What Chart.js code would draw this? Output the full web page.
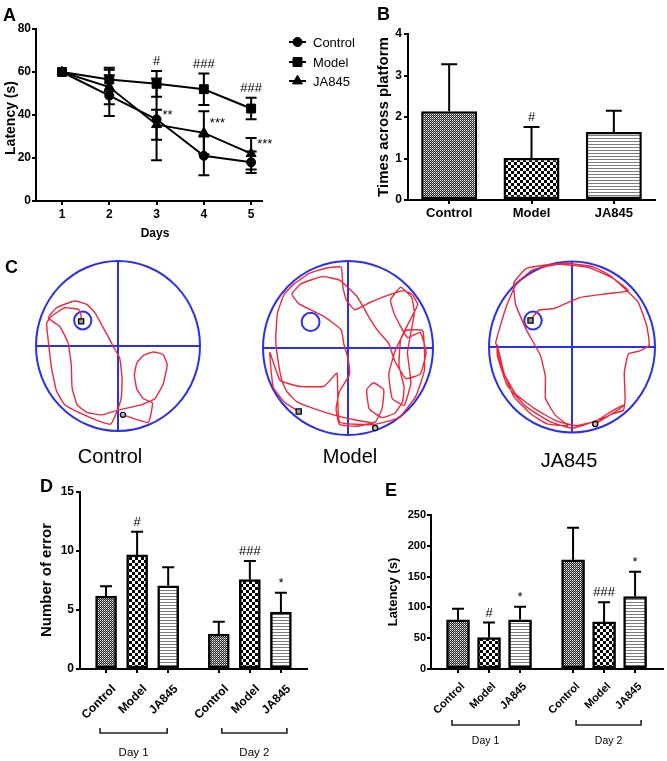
<!DOCTYPE html>
<html><head><meta charset="utf-8">
<script src="https://cdn.jsdelivr.net/npm/chart.js@4.4.1/dist/chart.umd.min.js"></script>
<style>html,body{margin:0;padding:0;background:#fff;}body{position:relative;width:667px;height:761px;overflow:hidden;}</style>
</head><body>
<script>
const FONT = "'Liberation Sans', Arial, Helvetica, sans-serif";

// ---------- DATA ----------
// Panel A: escape latency over training days
const days = [1, 2, 3, 4, 5];
const ctrlLatency = [60, 49, 38, 21, 18];
const ctrlLatencyErr = [0, 9.5, 19, 9, 5];
const modelLatency = [60, 56.5, 54.5, 52, 43];
const modelLatencyErr = [0, 5.5, 6, 7.3, 5];
const jaLatency = [60, 53, 35.5, 31.7, 22];
const jaLatencyErr = [0, 8, 7, 10, 7.3];
const modelSigA = ['', '', '#', '###', '###'];
const jaSigA = ['', '', '**', '***', '***'];

// Panel B: times across platform
const groups = ['Control', 'Model', 'JA845'];
const crossings = [2.14, 1.01, 1.64];
const crossingsErr = [1.13, 0.75, 0.51];
const crossingsSig = ['', '#', ''];

// Panel D: number of errors
const dayLabels = ['Day 1', 'Day 2'];
const errCountDay1 = [6.17, 9.67, 7.05];
const errCountDay1Sem = [0.85, 1.97, 1.58];
const errCountDay2 = [2.96, 7.58, 4.82];
const errCountDay2Sem = [1.04, 1.58, 1.64];
const errCountSig = ['', '#', '', '', '###', '*'];

// Panel E: step-down latency
const stepLatDay1 = [79.8, 51.0, 79.8];
const stepLatDay1Sem = [18, 24.4, 21.2];
const stepLatDay2 = [177.4, 76.5, 117.7];
const stepLatDay2Sem = [52, 32, 40.2];
const stepLatSig = ['', '#', '*', '', '###', '*'];

// Panel C: swim paths in pool coordinates (-1..1)
const controlPath = [[0.06,-0.81],[0.37,-0.90],[0.42,-0.67],[0.31,-0.62],[0.23,-0.51],[0.20,-0.34],[0.23,-0.20],[0.31,-0.11],[0.43,-0.07],[0.55,-0.10],[0.60,-0.22],[0.55,-0.45],[0.45,-0.62],[0.29,-0.69],[-0.02,-0.76],[-0.20,-0.81],[-0.38,-0.78],[-0.50,-0.69],[-0.56,-0.49],[-0.57,-0.22],[-0.61,0.04],[-0.71,0.23],[-0.85,0.33],[-0.75,0.45],[-0.53,0.53],[-0.38,0.49],[-0.28,0.39],[-0.20,0.25],[-0.12,0.11],[-0.05,-0.02],[0.02,-0.14],[0.05,-0.38],[0.04,-0.61],[-0.03,-0.81],[-0.09,-0.92],[-0.24,-0.88],[-0.46,-0.79],[-0.65,-0.69],[-0.75,-0.53],[-0.81,-0.26],[-0.85,0.06],[-0.87,0.27],[-0.81,0.35],[-0.65,0.45],[-0.48,0.43],[-0.45,0.36],[-0.45,0.29]];
const modelPath = [[0.32,-0.92],[0.28,-0.86],[0.10,-0.83],[-0.20,-0.76],[-0.45,-0.68],[-0.60,-0.62],[-0.72,-0.50],[-0.78,-0.37],[-0.83,-0.10],[-0.85,0.10],[-0.83,0.40],[-0.75,0.62],[-0.63,0.74],[-0.45,0.86],[-0.25,0.92],[-0.08,0.93],[-0.06,0.70],[-0.02,0.55],[0.08,0.44],[0.25,0.52],[0.45,0.60],[0.65,0.66],[0.75,0.62],[0.82,0.50],[0.72,0.30],[0.62,0.10],[0.60,-0.20],[0.66,-0.45],[0.64,-0.62],[0.55,-0.75],[0.40,-0.80],[0.25,-0.70],[0.22,-0.48],[0.30,-0.40],[0.42,-0.48],[0.40,-0.70],[0.32,-0.85],[0.10,-0.90],[-0.10,-0.88],[-0.14,-0.70],[-0.10,-0.50],[0.02,-0.30],[0.00,-0.12],[-0.05,0.05],[-0.08,0.21],[-0.28,0.36],[-0.58,0.51],[-0.66,0.62],[-0.55,0.74],[-0.30,0.82],[-0.10,0.78],[0.10,0.60],[0.25,0.35],[0.35,0.20],[0.48,0.05],[0.55,-0.15],[0.68,-0.35],[0.85,-0.30],[0.92,-0.05],[0.85,0.18],[0.70,0.12],[0.55,0.38],[0.50,0.55],[0.62,0.70],[0.75,0.58],[0.78,0.40],[0.70,-0.05],[0.74,-0.40],[0.66,-0.66],[0.52,-0.58],[0.48,-0.30],[0.56,-0.02],[0.68,0.20],[0.88,0.20],[0.90,-0.25],[0.80,-0.55],[0.60,-0.80],[0.30,-0.88],[-0.10,-0.85],[-0.13,-0.29],[-0.28,-0.44],[-0.58,-0.44],[-0.80,-0.37],[-0.92,-0.05],[-0.88,-0.45],[-0.75,-0.62],[-0.58,-0.73]];
const jaPath = [[0.28,-0.90],[0.45,-0.80],[0.58,-0.72],[0.62,-0.68],[0.48,-0.75],[0.30,-0.86],[0.05,-0.92],[-0.20,-0.86],[-0.45,-0.72],[-0.68,-0.55],[-0.85,-0.25],[-0.90,0.00],[-0.92,0.05],[-0.80,0.45],[-0.68,0.72],[-0.48,0.90],[-0.10,0.98],[0.25,0.94],[0.45,0.84],[0.65,0.67],[0.80,0.52],[0.90,0.25],[0.93,0.02],[0.80,-0.05],[0.68,-0.08],[0.63,-0.30],[0.64,-0.60],[0.62,-0.74],[0.50,-0.78],[0.30,-0.86],[0.00,-0.95],[-0.25,-0.88],[-0.55,-0.70],[-0.78,-0.45],[-0.90,-0.10],[-0.90,0.02],[-0.82,-0.30],[-0.70,-0.58],[-0.50,-0.78],[-0.30,-0.90],[-0.05,-0.92],[-0.20,-0.80],[-0.32,-0.60],[-0.32,-0.35],[-0.38,-0.10],[-0.55,0.20],[-0.68,0.50],[-0.70,0.75],[-0.55,0.92],[-0.20,0.97],[0.20,0.93],[0.50,0.80],[0.68,0.66],[0.40,0.62],[0.10,0.58],[-0.22,0.45],[-0.40,0.43],[-0.48,0.34],[-0.50,0.31]];
const controlPlatform = [-0.43, 0.30];
const modelPlatform = [-0.44, 0.30];
const jaPlatform = [-0.47, 0.31];
const platformRadius = 0.105;

// ---------- HELPERS ----------
Chart.defaults.font.family = FONT;
Chart.defaults.color = '#000';
const RED = '#f0263c', BLUE = '#2a2ef0';

function place(id, left, top, w, h) {
  const c = document.createElement('canvas');
  c.id = id; c.width = w; c.height = h;
  c.style.cssText = 'position:absolute;left:' + left + 'px;top:' + top + 'px;width:' + w + 'px;height:' + h + 'px';
  document.body.appendChild(c);
  return c;
}
function makePattern(kind) {
  const c = document.createElement('canvas');
  let g;
  if (kind === 'fine') {
    c.width = 2; c.height = 2; g = c.getContext('2d');
    g.fillStyle = '#262626'; g.fillRect(0, 0, 2, 2);
    g.fillStyle = '#ffffff'; g.fillRect(0, 0, 1, 1);
    g.fillStyle = '#9a9a9a'; g.fillRect(1, 1, 1, 1);
  } else if (kind === 'checker') {
    c.width = 6; c.height = 6; g = c.getContext('2d');
    g.fillStyle = '#fff'; g.fillRect(0, 0, 6, 6);
    g.fillStyle = '#000'; g.fillRect(0, 0, 3, 3); g.fillRect(3, 3, 3, 3);
  } else {
    c.width = 2; c.height = 3; g = c.getContext('2d');
    g.fillStyle = '#fff'; g.fillRect(0, 0, 2, 3);
    g.fillStyle = '#7a7a7a'; g.fillRect(0, 0, 2, 1);
  }
  return g.createPattern(c, 'repeat');
}
const patCtrl = makePattern('fine'), patModel = makePattern('checker'), patJA = makePattern('stripes');

function axis(size, ticksExtra, extra) {
  return Object.assign({
    border: { display: true, color: '#000', width: 2 },
    grid: { display: true, drawOnChartArea: false, drawTicks: true, tickLength: 4, tickWidth: 2, tickColor: '#000', color: '#000', lineWidth: 2, offset: false },
    ticks: Object.assign({ color: '#000', font: { family: FONT, size: size, weight: 'bold' }, padding: 2, autoSkip: false, maxRotation: 0, minRotation: 0 }, ticksExtra || {})
  }, extra || {});
}
const baseOpts = { responsive: false, maintainAspectRatio: false, animation: false, devicePixelRatio: 1, events: [],
  plugins: { legend: { display: false }, tooltip: { enabled: false } } };

const errorBars = {
  id: 'errorBars',
  afterDatasetsDraw(chart) {
    const ctx = chart.ctx;
    chart.data.datasets.forEach((ds, di) => {
      if (!ds.errors) return;
      const meta = chart.getDatasetMeta(di);
      const ys = chart.scales[meta.yAxisID];
      ctx.save(); ctx.strokeStyle = '#000'; ctx.lineWidth = 2;
      meta.data.forEach((el, i) => {
        const e = ds.errors[i]; if (!e) return;
        const raw = ds.data[i]; const v = (typeof raw === 'object') ? raw.y : raw;
        const x = el.x, hw = ds.capHalf || 6;
        const yU = ys.getPixelForValue(v + e);
        const yL = ds.errBoth ? ys.getPixelForValue(v - e) : ys.getPixelForValue(v);
        ctx.beginPath();
        ctx.moveTo(x, yL); ctx.lineTo(x, yU);
        ctx.moveTo(x - hw, yU); ctx.lineTo(x + hw, yU);
        if (ds.errBoth) { ctx.moveTo(x - hw, yL); ctx.lineTo(x + hw, yL); }
        ctx.stroke();
      });
      ctx.restore();
    });
  }
};
const sigMarks = {
  id: 'sigMarks',
  afterDatasetsDraw(chart) {
    const ctx = chart.ctx;
    chart.data.datasets.forEach((ds, di) => {
      if (!ds.sig) return;
      const meta = chart.getDatasetMeta(di);
      const ys = chart.scales[meta.yAxisID];
      meta.data.forEach((el, i) => {
        const s = ds.sig[i]; if (!s) return;
        const raw = ds.data[i]; const v = (typeof raw === 'object') ? raw.y : raw;
        ctx.save(); ctx.fillStyle = '#000'; ctx.font = '13px ' + FONT; ctx.textBaseline = 'alphabetic';
        if (ds.sigRight) {
          ctx.textAlign = 'left';
          ctx.fillText(s, el.x + 6, ys.getPixelForValue(v) - 6);
        } else {
          ctx.textAlign = 'center';
          const e = ds.errors ? ds.errors[i] : 0;
          ctx.fillText(s, el.x, ys.getPixelForValue(v + e) - 6);
        }
        ctx.restore();
      });
    });
  }
};
function textPlugin(left, top, items) {
  return { id: 'texts', afterDraw(chart) {
    const ctx = chart.ctx;
    items.forEach(t => {
      ctx.save(); ctx.font = t.font; ctx.fillStyle = t.color || '#000';
      ctx.textAlign = t.align || 'center'; ctx.textBaseline = t.base || 'alphabetic';
      ctx.translate(t.x - left, t.y - top); if (t.rot) ctx.rotate(t.rot);
      ctx.fillText(t.text, 0, 0); ctx.restore();
    });
  } };
}

// ---------- PANEL A ----------
function lineSet(label, vals, errs, style, r, sig, sigRight) {
  return { label: label, data: days.map((d, i) => ({ x: d, y: vals[i] })), errors: errs, errBoth: true, capHalf: 5.5,
    sig: sig, sigRight: sigRight, borderColor: '#000', borderWidth: 2, backgroundColor: '#000',
    pointStyle: style, pointRadius: r, pointBackgroundColor: '#000', pointBorderColor: '#000', pointBorderWidth: 1, tension: 0, clip: false };
}
const legendA = { id: 'legendA', afterDraw(chart) {
  const ctx = chart.ctx;
  const entries = [['Control', 'circle', 4.5], ['Model', 'rect', 6.3], ['JA845', 'triangle', 5.8]];
  const ys = [42, 62, 81];
  entries.forEach((en, i) => {
    ctx.save(); ctx.strokeStyle = '#000'; ctx.fillStyle = '#000'; ctx.lineWidth = 2;
    ctx.beginPath(); ctx.moveTo(289, ys[i]); ctx.lineTo(306, ys[i]); ctx.stroke();
    ctx.lineWidth = 1;
    Chart.helpers.drawPoint(ctx, { pointStyle: en[1], radius: en[2], rotation: 0, borderWidth: 1 }, 297.5, ys[i]);
    ctx.font = '13px ' + FONT; ctx.textAlign = 'left'; ctx.textBaseline = 'middle';
    ctx.fillText(en[0], 313, ys[i] + 1);
    ctx.restore();
  });
} };
new Chart(place('chartA', 0, 0, 370, 245), {
  type: 'line',
  data: { datasets: [
    lineSet('Control', ctrlLatency, ctrlLatencyErr, 'circle', 4.5),
    lineSet('Model', modelLatency, modelLatencyErr, 'rect', 6.3, modelSigA, false),
    lineSet('JA845', jaLatency, jaLatencyErr, 'triangle', 5.8, jaSigA, true)
  ] },
  options: Object.assign({}, baseOpts, {
    layout: { padding: { left: 0, top: 29, right: 108, bottom: 0 } },
    scales: {
      x: axis(12, {}, { type: 'linear', min: 0.45, max: 5.23,
        afterBuildTicks: s => { s.ticks = days.map(v => ({ value: v })); },
        afterFit: s => { s.height = 44; } }),
      y: axis(12, { stepSize: 20, padding: 1 }, { min: 0, max: 80, afterFit: s => { s.width = 36; } })
    }
  }),
  plugins: [errorBars, sigMarks, legendA, textPlugin(0, 0, [
    { text: 'A', x: 3, y: 20.5, font: 'bold 18px ' + FONT, align: 'left' },
    { text: 'Latency (s)', x: 11, y: 118, font: 'bold 14px ' + FONT, base: 'middle', rot: -Math.PI / 2 },
    { text: 'Days', x: 155, y: 237, font: 'bold 12px ' + FONT }
  ])]
});

// ---------- PANEL B ----------
new Chart(place('chartB', 340, 0, 327, 245), {
  type: 'bar',
  data: { labels: groups, datasets: [{ data: crossings, errors: crossingsErr, sig: crossingsSig, capHalf: 8,
    backgroundColor: [patCtrl, patModel, patJA], borderColor: '#000', borderWidth: 2.5, borderSkipped: false,
    barPercentage: 0.68, categoryPercentage: 1 }] },
  options: Object.assign({}, baseOpts, {
    layout: { padding: { left: 0, top: 34, right: 12, bottom: 0 } },
    scales: {
      x: axis(13, {}, { type: 'category', offset: true, afterFit: s => { s.height = 45; } }),
      y: axis(12, { stepSize: 1, padding: 2 }, { min: 0, max: 4, afterFit: s => { s.width = 68; } })
    }
  }),
  plugins: [errorBars, sigMarks, textPlugin(340, 0, [
    { text: 'B', x: 377, y: 20, font: 'bold 18px ' + FONT, align: 'left' },
    { text: 'Times across platform', x: 384, y: 117, font: 'bold 15px ' + FONT, base: 'middle', rot: -Math.PI / 2 }
  ])]
});

// ---------- PANEL C ----------
function poolPlugin(platform) {
  return { id: 'pool', beforeDatasetsDraw(chart) {
    const ctx = chart.ctx, x = chart.scales.x, y = chart.scales.y;
    const cx = x.getPixelForValue(0), cy = y.getPixelForValue(0);
    const rx = x.getPixelForValue(1) - cx, ry = cy - y.getPixelForValue(1);
    ctx.save(); ctx.strokeStyle = BLUE; ctx.lineWidth = 2;
    ctx.beginPath(); ctx.ellipse(cx, cy, rx, ry, 0, 0, Math.PI * 2); ctx.stroke();
    ctx.beginPath();
    ctx.moveTo(x.getPixelForValue(-1), cy); ctx.lineTo(x.getPixelForValue(1), cy);
    ctx.moveTo(cx, y.getPixelForValue(1)); ctx.lineTo(cx, y.getPixelForValue(-1));
    ctx.stroke();
    const px = x.getPixelForValue(platform[0]), py = y.getPixelForValue(platform[1]);
    ctx.beginPath(); ctx.ellipse(px, py, rx * platformRadius, ry * platformRadius, 0, 0, Math.PI * 2); ctx.stroke();
    ctx.restore();
  } };
}
function trackChart(id, left, width, pad, path, platform, texts) {
  const pts = path.map(p => ({ x: p[0], y: p[1] }));
  new Chart(place(id, left, 255, width, 220), {
    type: 'scatter',
    data: { datasets: [
      { data: [pts[0]], pointStyle: 'circle', pointRadius: 2.6, pointBackgroundColor: '#bbb', pointBorderColor: '#000', pointBorderWidth: 1.2, clip: false },
      { data: [pts[pts.length - 1]], pointStyle: 'rect', pointRadius: 3.6, pointBackgroundColor: '#999', pointBorderColor: '#000', pointBorderWidth: 1.3, clip: false },
      { data: pts, showLine: true, borderColor: RED, borderWidth: 1.4, pointRadius: 0, tension: 0.12, clip: false }
    ] },
    options: Object.assign({}, baseOpts, {
      layout: { padding: pad },
      scales: { x: { type: 'linear', min: -1, max: 1, display: false }, y: { type: 'linear', min: -1, max: 1, display: false } }
    }),
    plugins: [poolPlugin(platform), textPlugin(left, 255, texts)]
  });
}
trackChart('chartC1', 0, 206, { left: 36, right: 6, top: 6, bottom: 44 }, controlPath, controlPlatform, [
  { text: 'C', x: 5, y: 273, font: 'bold 18px ' + FONT, align: 'left' },
  { text: 'Control', x: 110, y: 463, font: '20px ' + FONT }
]);
trackChart('chartC2', 255, 186, { left: 8, right: 8, top: 6, bottom: 40 }, modelPath, modelPlatform, [
  { text: 'Model', x: 350, y: 463, font: '20px ' + FONT }
]);
trackChart('chartC3', 481, 184, { left: 8, right: 10, top: 6.5, bottom: 42.5 }, jaPath, jaPlatform, [
  { text: 'JA845', x: 569, y: 467, font: '20px ' + FONT }
]);

// ---------- PANELS D & E ----------
function groupedPositions(gap) {
  const out = [];
  dayLabels.forEach((_, g) => groups.forEach((_, i) => out.push(1 + i + g * (3 + gap))));
  return out;
}
function bracketPlugin(left, top, pos, yLine, yLabel, fontSize, offs) {
  return { id: 'brackets', afterDraw(chart) {
    const xs = chart.scales.x, ctx = chart.ctx;
    dayLabels.forEach((lab, g) => {
      const x1 = xs.getPixelForValue(pos[g * 3]) + offs[g][0];
      const x2 = xs.getPixelForValue(pos[g * 3 + 2]) + offs[g][1];
      const y = yLine - top;
      ctx.save(); ctx.strokeStyle = '#222'; ctx.lineWidth = 1.6;
      ctx.beginPath(); ctx.moveTo(x1, y - 5); ctx.lineTo(x1, y); ctx.lineTo(x2, y); ctx.lineTo(x2, y - 5); ctx.stroke();
      ctx.fillStyle = '#000'; ctx.font = fontSize + 'px ' + FONT; ctx.textAlign = 'center'; ctx.textBaseline = 'alphabetic';
      ctx.fillText(lab, (x1 + x2) / 2, yLabel - top);
      ctx.restore();
    });
  } };
}
function groupedBarChart(id, left, opts) {
  const pos = groupedPositions(opts.gap);
  const vals = opts.day1.concat(opts.day2), errs = opts.sem1.concat(opts.sem2);
  new Chart(place(id, left, 470, opts.width, 291), {
    type: 'bar',
    data: { datasets: [{ data: pos.map((p, i) => ({ x: p, y: vals[i] })), errors: errs, sig: opts.sig, capHalf: 6,
      backgroundColor: [patCtrl, patModel, patJA, patCtrl, patModel, patJA], borderColor: '#000', borderWidth: 2.5,
      borderSkipped: false, barThickness: opts.barW }] },
    options: Object.assign({}, baseOpts, {
      layout: { padding: { left: 0, top: opts.padTop, right: opts.padRight, bottom: 0 } },
      scales: {
        x: axis(opts.xFont, { minRotation: 45, maxRotation: 45, padding: opts.xPad, labelOffset: opts.lblOff, callback: (v, i) => groups[i % 3] },
          { type: 'linear', offset: false, min: opts.xmin, max: opts.xmax,
            afterBuildTicks: s => { s.ticks = pos.map(v => ({ value: v })); },
            afterFit: s => { s.height = 92; } }),
        y: axis(opts.yFont, { stepSize: opts.step, padding: opts.yPad }, { min: 0, max: opts.ymax, afterFit: s => { s.width = opts.yW; } })
      }
    }),
    plugins: [errorBars, sigMarks, bracketPlugin(left, 470, pos, opts.bracketY, opts.labelY, opts.dayFont, [[-6, -1], [3, 6]]),
      textPlugin(left, 470, opts.texts)]
  });
}
groupedBarChart('chartD', 0, {
  width: 330, gap: 0.63, day1: errCountDay1, day2: errCountDay2, sem1: errCountDay1Sem, sem2: errCountDay2Sem, sig: errCountSig,
  barW: 21, padTop: 22, padRight: 23, xmin: 0.161, xmax: 7.47, ymax: 15, step: 5, yW: 80, xFont: 12, yFont: 12, xPad: 9, lblOff: 8, yPad: 2,
  bracketY: 733, labelY: 756, dayFont: 11.5,
  texts: [
    { text: 'D', x: 40, y: 491.5, font: 'bold 18px ' + FONT, align: 'left' },
    { text: 'Number of error', x: 47, y: 580, font: 'bold 15px ' + FONT, base: 'middle', rot: -Math.PI / 2 }
  ]
});
groupedBarChart('chartE', 330, {
  width: 337, gap: 0.71, day1: stepLatDay1, day2: stepLatDay2, sem1: stepLatDay1Sem, sem2: stepLatDay2Sem, sig: stepLatSig,
  barW: 23, padTop: 45, padRight: 4, xmin: 0.129, xmax: 7.61, ymax: 250, step: 50, yW: 101, xFont: 11, yFont: 11, xPad: 7, lblOff: 5, yPad: 1,
  bracketY: 725, labelY: 744, dayFont: 10.5,
  texts: [
    { text: 'E', x: 385, y: 495.5, font: 'bold 18px ' + FONT, align: 'left' },
    { text: 'Latency (s)', x: 393, y: 592, font: 'bold 13px ' + FONT, base: 'middle', rot: -Math.PI / 2 }
  ]
});
</script>
</body></html>
